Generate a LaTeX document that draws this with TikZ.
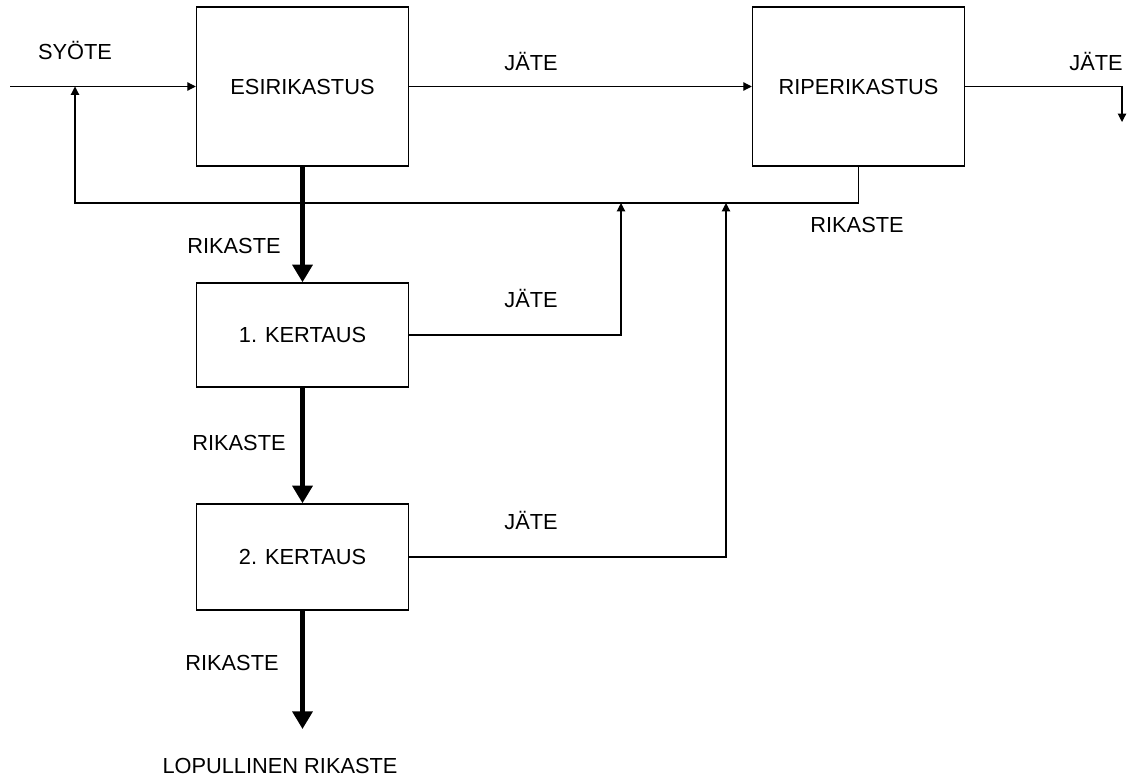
\documentclass[tikz,border=0pt]{standalone}
\usepackage{fontspec}
\setmainfont{Liberation Sans}
\usetikzlibrary{arrows.meta}

\begin{document}
\begin{tikzpicture}[x=0.025cm,y=-0.025cm,
	box/.style={draw,line width=1pt,inner sep=0pt,minimum width=5.3cm,font=\fontsize{15.5}{18}\selectfont},
	lbl/.style={inner sep=0pt,font=\fontsize{15.5}{18}\selectfont},
	flow/.style={line width=0.8pt,-{Triangle[length=6pt,width=6pt]}},
	mainflow/.style={line width=3pt,-{Triangle[length=12.5pt,width=14pt]}}]
			\useasboundingbox (0,0) rectangle (1136,782);
			% boxes
			\node[box,minimum height=3.975cm] (esi) at (302.5,86.5) {ESIRIKASTUS};
			\node[box,minimum height=3.975cm] (riper) at (858.5,86.5) {RIPERIKASTUS};
			\node[box,minimum height=2.6cm] (k1) at (302.5,335) {1. KERTAUS};
			\node[box,minimum height=2.65cm] (k2) at (302.5,557) {2. KERTAUS};
			% free ends and joints
			\coordinate (feed) at (10,86.5);
			\coordinate (loopin) at (75,86.5);
			\coordinate (loop) at (75,203);
			\coordinate (j1) at (621,203);
			\coordinate (j2) at (726,203);
			\coordinate (waste) at (1122,122);
			\coordinate (final) at (302.5,729);
			% flows
			\draw[flow] (feed) -- (esi.west);
			\draw[flow] (esi.east) -- (riper.west);
			\draw[flow] (riper.east) -| (waste);
			\draw[flow] (riper.south) |- (loop) -- (loopin);
			\draw[flow] (k1.east) -| (j1);
			\draw[flow] (k2.east) -| (j2);
			\draw[mainflow] (esi.south) -- (k1.north);
			\draw[mainflow] (k1.south) -- (k2.north);
			\draw[mainflow] (k2.south) -- (final);
			% labels
			\node[lbl] (lsyote) at (75,50) {SYÖTE};
			\node[lbl] (ljate) at (531,61) {JÄTE};
			\node[lbl] (ljateout) at (1096,61) {JÄTE};
			\node[lbl] (lrikriper) at (857,225) {RIKASTE};
			\node[lbl] (lrik0) at (234,246) {RIKASTE};
			\node[lbl] (ljate1) at (531,298) {JÄTE};
			\node[lbl] (lrik1) at (239,443) {RIKASTE};
			\node[lbl] (ljate2) at (531,520) {JÄTE};
			\node[lbl] (lrik2) at (232,663) {RIKASTE};
			\node[lbl] (lfinal) at (280,766) {LOPULLINEN RIKASTE};
		\end{tikzpicture}
\end{document}
